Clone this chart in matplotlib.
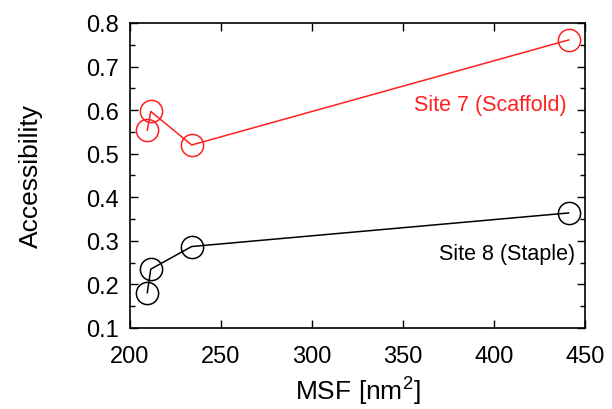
import numpy as np
import matplotlib.pyplot as plt

plt.rcParams['font.family'] = ['Liberation Sans', 'DejaVu Sans']
plt.rcParams['mathtext.fontset'] = 'custom'
plt.rcParams['mathtext.rm'] = 'Liberation Sans'

# data
msf = [209.5, 211.4, 233.9, 441.0]
site7 = [0.554, 0.597, 0.520, 0.761]
site8 = [0.181, 0.235, 0.287, 0.364]

fig = plt.figure(figsize=(6.12, 4.10), dpi=100)
ax = fig.add_axes([0.2124, 0.1976, 0.7435, 0.7439])

ax.plot(msf, site7, color='#ff2020', lw=1.1, marker='o', ms=16, mfc='none', mew=1.1)
ax.plot(msf, site8, color='black', lw=1.1, marker='o', ms=16, mfc='none', mew=1.1)

ax.text(440, 0.614, 'Site 7 (Scaffold)', color='#ff2020', fontsize=15.5, ha='right', va='center')
ax.text(444.5, 0.270, 'Site 8 (Staple)', color='black', fontsize=15.5, ha='right', va='center')

ax.set_xlim(200, 450)
ax.set_ylim(0.1, 0.8)
ax.set_xticks(np.arange(200, 451, 50))
ax.set_yticks(np.arange(0.1, 0.81, 0.1))
ax.set_yticks(np.arange(0.15, 0.8, 0.1), minor=True)
ax.yaxis.set_major_formatter(plt.FormatStrFormatter('%.1f'))
ax.tick_params(direction='in', top=True, right=True, labelsize=17, length=6, width=1, pad=8)
ax.tick_params(axis='x', pad=12)
ax.tick_params(which='minor', direction='in', right=True, length=3.5, width=1)
for s in ax.spines.values():
    s.set_linewidth(1.2)

ax.set_xlabel('MSF [nm$\\mathregular{^2}$]', fontsize=19, labelpad=6)
ax.set_ylabel('Accessibility', fontsize=19, labelpad=31)

fig.savefig('out.png', dpi=100)
